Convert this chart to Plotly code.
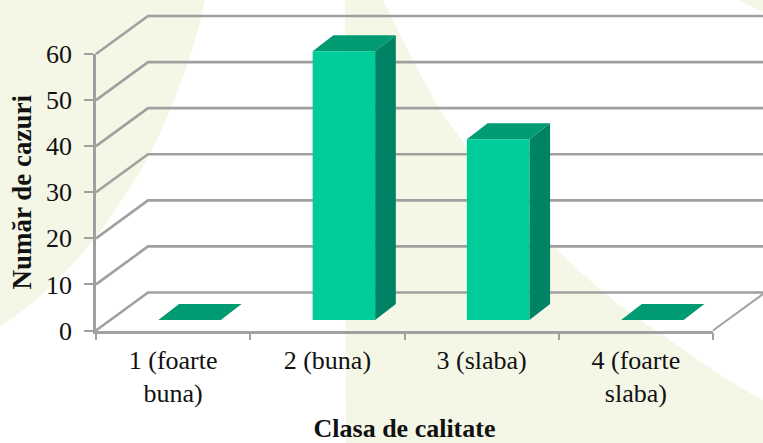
import plotly.graph_objects as go

categories = ["1 (foarte<br>buna)", "2 (buna)", "3 (slaba)", "4 (foarte<br>slaba)"]
category_pos = [0.5, 1.5, 2.5, 3.5]
category_edges = [0, 1, 2, 3, 4]
cases = [0, 58.3, 39.2, 0]
y_ticks = [0, 10, 20, 30, 40, 50, 60]

FONT = "Liberation Serif"
GRID = "#A0A0A0"
FRONT = "#00CC99"
TOP = "#009A73"
SIDE = "#008364"
BG = "#F4F6E6"
W, H = 763, 443
L, R, T, B = 96, 713, 54, 330.5
UX = (R - L) / 4
UY = (B - T) / 60

# projection of the fake 3D box, in axis units
DX_BACK, DY_BACK = 52 / UX, 38 / UY
DX_BAR, DY_BAR = 16.5 / UX, 10.5 / UY
DX_D, DY_D = 20.7 / UX, 16 / UY
BAR_W = 62.5 / UX

fig = go.Figure()

# native axes (ticks, labels, titles)
fig.add_trace(go.Scatter(x=category_pos, y=cases, mode="markers", marker=dict(opacity=0),
                         showlegend=False, hoverinfo="skip"))


def overlay(x, y, **kw):
    fig.add_trace(go.Scatter(x=x, y=y, xaxis="x2", yaxis="y2", showlegend=False, hoverinfo="skip", **kw))


for v in y_ticks:
    overlay([0, DX_BACK, 4 + DX_BACK], [v, v + DY_BACK, v + DY_BACK], mode="lines",
            line=dict(color=GRID, width=2.6))
overlay([4, 4 + DX_BACK], [0, DY_BACK], mode="lines", line=dict(color=GRID, width=2))

for i, v in enumerate(cases):
    x0 = category_pos[i] + DX_BAR - BAR_W / 2
    x1 = x0 + BAR_W
    y0 = DY_BAR
    y1 = y0 + v
    overlay([x1, x1 + DX_D, x1 + DX_D, x1, x1], [y0, y0 + DY_D, y1 + DY_D, y1, y0],
            fill="toself", fillcolor=SIDE, mode="lines", line=dict(width=0))
    overlay([x0, x0 + DX_D, x1 + DX_D, x1, x0], [y1, y1 + DY_D, y1 + DY_D, y1, y1],
            fill="toself", fillcolor=TOP, mode="lines", line=dict(width=0))
    overlay([x0, x1, x1, x0, x0], [y0, y0, y1, y1, y0],
            fill="toself", fillcolor=FRONT, mode="lines", line=dict(width=0))

bg_paths = [
    "M 0 0 L 205 0 C 197 40 180 90 160 133 C 145 165 132 185 117 207 C 90 250 45 297 0 327 Z",
    "M 345 0 L 383 0 C 400 35 420 75 440 110 C 475 160 510 205 550 243 C 585 278 620 308 660 333 C 695 358 730 383 763 400 L 763 443 L 346 443 Z",
    "M 738 0 L 763 0 L 763 12 Z",
]


def conv(path):
    out, toks, i = [], path.split(), 0
    while i < len(toks):
        if toks[i].isalpha():
            out.append(toks[i])
            i += 1
        else:
            out.append(f"{float(toks[i]) / W:.4f} {1 - float(toks[i + 1]) / H:.4f}")
            i += 2
    return " ".join(out)


fig.update_layout(
    width=W, height=H,
    margin=dict(l=0, r=0, t=0, b=0),
    paper_bgcolor="white", plot_bgcolor="rgba(0,0,0,0)",
    font=dict(family=FONT, size=26, color="#111111"),
    xaxis=dict(domain=[L / W, R / W], range=[0, 4], tickmode="array", tickvals=category_pos, ticktext=categories,
               ticks="", showgrid=False, zeroline=False, showline=True, linecolor=GRID, linewidth=2.6,
               tickfont=dict(family=FONT, size=26), automargin=False, ticklabelstandoff=4,
               minor=dict(tickmode="array", tickvals=category_edges, ticks="outside", ticklen=7,
                          tickcolor=GRID, tickwidth=2, showgrid=False),
               title=dict(text="<b>Clasa de calitate</b>", font=dict(family=FONT, size=26), standoff=17)),
    yaxis=dict(domain=[1 - B / H, 1 - T / H], range=[0, 60], tickmode="array", tickvals=y_ticks, ticks="outside",
               ticklen=9, tickcolor=GRID, tickwidth=2, showgrid=False, zeroline=False, showline=True,
               linecolor=GRID, linewidth=2.6, tickfont=dict(family=FONT, size=26), automargin=False,
               ticklabelstandoff=7,
               title=dict(text="<b>Număr de cazuri</b>", font=dict(family=FONT, size=27), standoff=7)),
    xaxis2=dict(domain=[0, 1], range=[-L / UX, (W - L) / UX], visible=False, anchor="y2"),
    yaxis2=dict(domain=[0, 1], range=[-(H - B) / UY, B / UY], visible=False, anchor="x2"),
    shapes=[dict(type="path", xref="paper", yref="paper", path=conv(p), fillcolor=BG,
                 line=dict(width=0), layer="below") for p in bg_paths],
)

fig.write_html("out.html", config={"displayModeBar": False},
               post_script="document.body.style.margin='0';")
